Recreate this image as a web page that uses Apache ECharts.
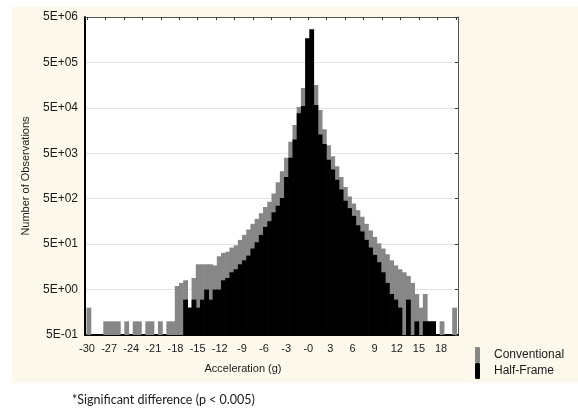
<!DOCTYPE html>
<html>
<head>
<meta charset="utf-8">
<script src="https://cdn.jsdelivr.net/npm/echarts@6/dist/echarts.min.js"></script>
<style>
  html, body { margin: 0; padding: 0; background: #fff; }
  #chart { width: 578px; height: 413px; }
</style>
</head>
<body>
<div id="chart"></div>
<script>
// histogram bins, acceleration in g
var binStart = -30.07;
var binWidth = 0.57;

// number of observations per bin, left to right
var conventional = [
  2, 0, 0, 0, 1, 1, 1, 1, 0, 1,
  0, 1, 1, 0, 1, 1, 0, 1, 0, 1,
  1, 6, 7, 8, 2, 9, 18, 18, 18, 18,
  17, 27, 32, 34, 42, 47, 62, 80, 105, 140,
  180, 240, 330, 430, 650, 1150, 2000, 4000, 9000, 21000,
  52000, 136000, 150000, 160000, 159000, 45000, 17000, 7500, 4300, 2600,
  1500, 900, 560, 390, 280, 200, 140, 100, 72, 52,
  40, 30, 22, 17, 14, 12, 10, 7, 4, 2,
  4, 1, 1, 0, 1, 0, 0, 2
];

var halfFrame = [
  0, 0, 0, 0, 0, 0, 0, 0, 0, 0,
  0, 0, 0, 0, 0, 0, 0, 0, 0, 0,
  0, 0, 0, 3, 2, 3, 2, 3, 5, 3,
  5, 5, 8, 9, 12, 14, 18, 22, 28, 40,
  55, 80, 120, 160, 250, 350, 520, 1500, 4000, 10000,
  38000, 55000, 1700000, 2700000, 58000, 13000, 8000, 3600, 2200, 1300,
  800, 450, 310, 210, 130, 95, 62, 42, 29, 20,
  12, 7, 4, 3, 2, 0, 3, 0, 1, 0,
  1, 1, 1, 0, 0, 0, 0, 0
];

var xLabels = [-30, -27, -24, -21, -18, -15, -12, -9, -6, -3, 0, 3, 6, 9, 12, 15, 18];
var topTicks = [-30, -27.5, -25, -22.5, -20, -17.5, -15, -12.5, -10, -7.5, -5, -2.5,
  0, 2.5, 5, 7.5, 10, 12.5, 15, 17.5, 20];

var xMin = -30.27;
var xMax = 20.3;
var yMin = 0.5;
var yMax = 5e6;

var font = 'Liberation Sans';
var textColor = '#1a1a1a';

function histData(counts) {
  var out = [];
  counts.forEach(function (c, i) {
    if (c > 0) {
      out.push([binStart + i * binWidth, binStart + (i + 1) * binWidth, c]);
    }
  });
  return out;
}

function renderBin(params, api) {
  var top = api.coord([api.value(0), api.value(2)]);
  var base = api.coord([api.value(1), yMin]);
  return {
    type: 'rect',
    shape: {
      x: top[0],
      y: top[1],
      width: base[0] - top[0] + 0.6,
      height: base[1] - top[1]
    },
    style: { fill: api.visual('color') }
  };
}

function sciLabel(value) {
  var e = Math.round(Math.log10(value / 5));
  var a = Math.abs(e);
  return '5E' + (e < 0 ? '-' : '+') + (a < 10 ? '0' : '') + a;
}

var chart = echarts.init(document.getElementById('chart'));

var option = {
  animation: false,
  backgroundColor: '#fff',
  grid: {
    left: 85,
    right: 120,
    top: 17,
    bottom: 78,
    show: true,
    backgroundColor: '#fff',
    borderWidth: 0
  },
  graphic: [
    {
      type: 'rect',
      z: -10,
      silent: true,
      shape: { x: 12, y: 7, width: 566, height: 376 },
      style: { fill: '#fdf8ec' }
    },
    {
      type: 'text',
      silent: true,
      style: {
        text: 'Acceleration (g)',
        x: 243,
        y: 369,
        align: 'center',
        verticalAlign: 'middle',
        font: '11px "Liberation Sans"',
        fill: textColor
      }
    },
    {
      type: 'text',
      silent: true,
      style: {
        text: '*Significant difference (p < 0.005)',
        x: 72,
        y: 400,
        align: 'left',
        verticalAlign: 'middle',
        font: '12.5px "Lato"',
        fill: textColor
      }
    }
  ],
  legend: {
    orient: 'vertical',
    left: 475,
    top: 347,
    padding: 0,
    itemWidth: 5,
    itemHeight: 16,
    itemGap: 0,
    icon: 'roundRect',
    textStyle: {
      fontFamily: font,
      fontSize: 12,
      color: textColor,
      padding: [0, 0, 0, 9]
    },
    data: ['Conventional', 'Half-Frame']
  },
  xAxis: [
    {
      type: 'value',
      position: 'bottom',
      min: xMin,
      max: xMax,
      axisLine: { show: true, onZero: false, lineStyle: { color: '#000', width: 2 } },
      axisTick: { show: false },
      splitLine: { show: false },
      axisLabel: {
        customValues: xLabels,
        formatter: function (v) { return v === 0 ? '-0' : String(v); },
        color: textColor,
        fontFamily: font,
        fontSize: 11,
        margin: 8
      }
    },
    {
      type: 'value',
      position: 'top',
      min: xMin,
      max: xMax,
      axisLine: { show: true, onZero: false, lineStyle: { color: '#555', width: 1 } },
      axisTick: {
        show: true,
        inside: true,
        length: 3,
        customValues: topTicks,
        lineStyle: { color: '#333' }
      },
      axisLabel: { show: false },
      splitLine: { show: false }
    }
  ],
  yAxis: [
    {
      type: 'log',
      logBase: 10,
      position: 'left',
      min: yMin,
      max: yMax,
      interval: 1,
      name: 'Number of Observations',
      nameLocation: 'middle',
      nameGap: 54,
      nameTextStyle: { fontFamily: font, fontSize: 11, color: textColor },
      axisLine: { show: true, onZero: false, lineStyle: { color: '#000', width: 2 } },
      axisTick: { show: false },
      splitLine: { show: true, lineStyle: { color: '#e3e3e3', width: 1 } },
      axisLabel: {
        formatter: sciLabel,
        color: textColor,
        fontFamily: font,
        fontSize: 12,
        margin: 7
      }
    },
    {
      type: 'log',
      logBase: 10,
      position: 'right',
      min: yMin,
      max: yMax,
      interval: 1,
      axisLine: { show: true, onZero: false, lineStyle: { color: '#555', width: 1 } },
      axisTick: { show: true, inside: true, length: 3, lineStyle: { color: '#333' } },
      axisLabel: { show: false },
      splitLine: { show: false }
    }
  ],
  series: [
    {
      name: 'Conventional',
      type: 'custom',
      xAxisIndex: 0,
      yAxisIndex: 0,
      clip: true,
      itemStyle: { color: '#878787' },
      encode: { x: [0, 1], y: 2 },
      renderItem: renderBin,
      data: histData(conventional)
    },
    {
      name: 'Half-Frame',
      type: 'custom',
      xAxisIndex: 0,
      yAxisIndex: 0,
      clip: true,
      itemStyle: { color: '#000' },
      encode: { x: [0, 1], y: 2 },
      renderItem: renderBin,
      data: histData(halfFrame)
    }
  ]
};

chart.setOption(option);
</script>
</body>
</html>
